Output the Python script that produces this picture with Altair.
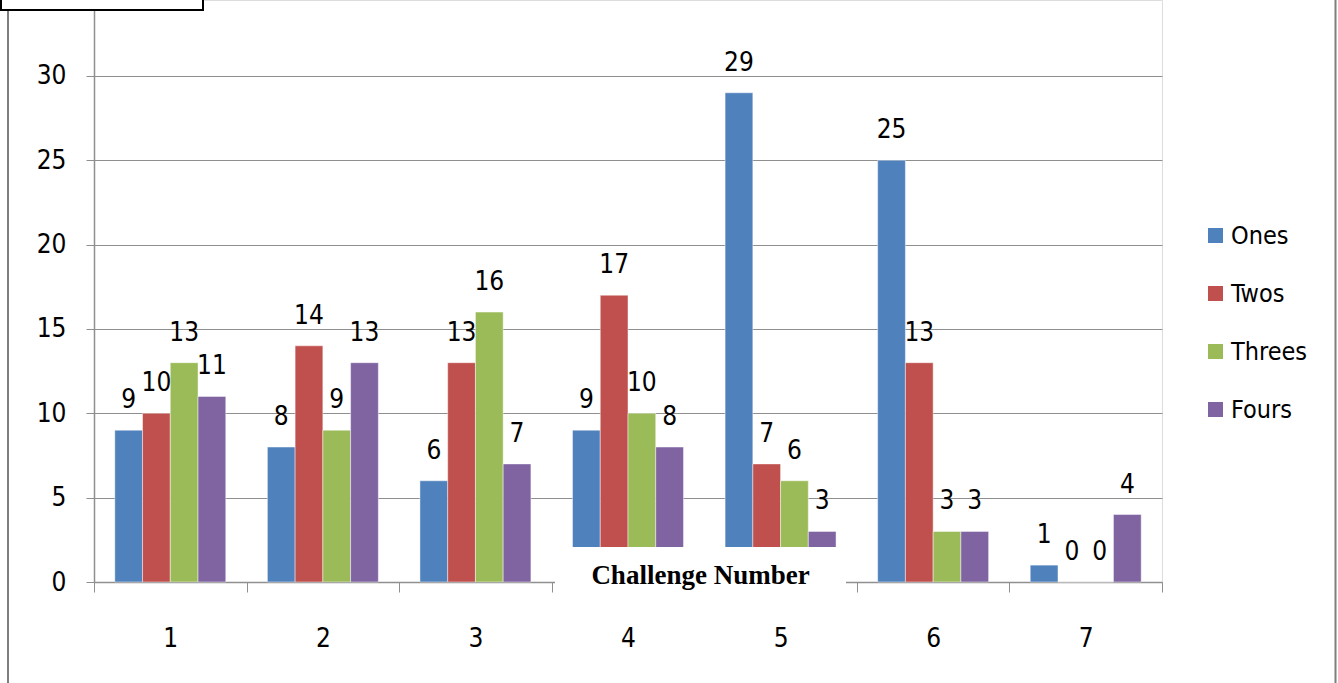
import altair as alt
import pandas as pd

# Counts per challenge for each series
challenges = ["1", "2", "3", "4", "5", "6", "7"]
series = ["Ones", "Twos", "Threes", "Fours"]
ones = [9, 8, 6, 9, 29, 25, 1]
twos = [10, 14, 13, 17, 7, 13, 0]
threes = [13, 9, 16, 10, 6, 3, 0]
fours = [11, 13, 7, 8, 3, 3, 4]
colors = ["#4F81BD", "#C0504D", "#9BBB59", "#8064A2"]
y_ticks = [0, 5, 10, 15, 20, 25, 30]

rows = []
for name, vals in zip(series, [ones, twos, threes, fours]):
    for c, v in zip(challenges, vals):
        rows.append({"Challenge": c, "Series": name, "Count": v})
df = pd.DataFrame(rows)

FONT = "Liberation Sans Narrow, DejaVu Sans Condensed, sans-serif"
GRID = "#8f8f8f"

x = alt.X(
    "Challenge:N",
    sort=challenges,
    scale=alt.Scale(paddingInner=0, paddingOuter=0),
    axis=alt.Axis(
        title=None, labelAngle=0, tickBand="extent", grid=False,
        domainColor=GRID, tickColor=GRID, tickSize=10, domainWidth=1.5,
        labelPadding=33, labelFont=FONT, labelFontSize=26, labelColor="#000000",
    ),
)
xo = alt.XOffset("Series:N", sort=series,
                 scale=alt.Scale(paddingInner=0, paddingOuter=0.75))
y = alt.Y(
    "Count:Q",
    scale=alt.Scale(domain=[0, 34.5], nice=False, zero=True),
    axis=alt.Axis(
        values=y_ticks, title=None, grid=True, gridColor=GRID, gridWidth=1.2,
        domainColor=GRID, tickColor=GRID, tickSize=8, domainWidth=1.5,
        labelPadding=20, labelFont=FONT, labelFontSize=26, labelColor="#000000",
    ),
)
color = alt.Color(
    "Series:N", sort=series,
    scale=alt.Scale(domain=series, range=colors),
    legend=alt.Legend(
        title=None, orient="none", legendX=1109, legendY=223, padding=0,
        symbolType="square", symbolSize=225, symbolStrokeWidth=0,
        labelFont=FONT, labelFontSize=25, labelColor="#000000",
        labelOffset=3, rowPadding=32,
    ),
)

base = alt.Chart(df)
bars = base.mark_bar(stroke="#ffffff", strokeOpacity=0.45, strokeWidth=1).encode(
    x=x, xOffset=xo, y=y, color=color
)
labels = base.mark_text(
    baseline="alphabetic", dy=-22, font=FONT, fontSize=26, color="#000000"
).encode(x=x, xOffset=xo, y=y, text="Count:Q")

one = alt.Chart(pd.DataFrame({"k": [0]}))

# white panel holding the category-axis title
title_box = one.mark_rect(fill="#ffffff").encode(
    x=alt.value(461), x2=alt.value(752), y=alt.value(547), y2=alt.value(600)
)
title_text = one.mark_text(
    font="Liberation Serif", fontWeight="bold", fontSize=27,
    color="#000000", baseline="alphabetic", align="center",
).encode(x=alt.value(606.5), y=alt.value(584), text=alt.value("Challenge Number"))

# outer frame pieces
left_edge = one.mark_rule(color="#7f7f7f", strokeWidth=2).encode(
    x=alt.value(-86), y=alt.value(-10), y2=alt.value(720)
)
right_edge = one.mark_rule(color="#7f7f7f", strokeWidth=2).encode(
    x=alt.value(1241.5), y=alt.value(-10), y2=alt.value(720)
)
top_box = one.mark_rect(fill="#ffffff", stroke="#000000", strokeWidth=2).encode(
    x=alt.value(-93), x2=alt.value(109), y=alt.value(-20), y2=alt.value(10)
)

chart = alt.layer(
    bars, labels, title_box, title_text, left_edge, right_edge, top_box
).properties(
    width=1068, height=582,
    autosize=alt.AutoSizeParams(type="none"),
    padding={"left": 94, "top": 0, "right": 176, "bottom": 101},
).configure_view(strokeWidth=0).configure(background="#ffffff")

chart.save("out.html", embed_options={"renderer": "svg", "actions": False})
